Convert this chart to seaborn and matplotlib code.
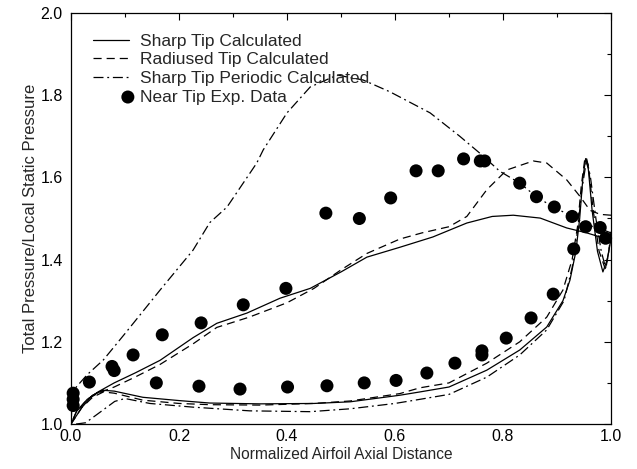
import numpy as np
import pandas as pd
import matplotlib
matplotlib.use("Agg")
import matplotlib.pyplot as plt
import seaborn as sns
from matplotlib.legend_handler import HandlerPathCollection
from matplotlib.ticker import MultipleLocator

# ---------------- data ----------------
# Sharp Tip Calculated (solid)
sharp_up_x = [0.0, 0.01, 0.03, 0.05, 0.08, 0.12, 0.165, 0.226, 0.27, 0.326, 0.387, 0.443, 0.5, 0.548,
              0.609, 0.67, 0.733, 0.78, 0.819, 0.869, 0.918, 0.955, 0.98, 1.0]
sharp_up_y = [1.0, 1.03, 1.06, 1.078, 1.10, 1.125, 1.155, 1.21, 1.245, 1.27, 1.306, 1.33, 1.37, 1.406,
              1.43, 1.455, 1.489, 1.505, 1.508, 1.501, 1.477, 1.465, 1.455, 1.45]
sharp_lo_x = [0.0, 0.02, 0.04, 0.06, 0.08, 0.133, 0.2, 0.257, 0.35, 0.45, 0.517, 0.609, 0.646, 0.70,
              0.77, 0.831, 0.881, 0.911, 0.924, 0.935, 0.942, 0.948, 0.953, 0.958, 0.965, 0.975,
              0.985, 0.993, 1.0]
sharp_lo_y = [1.0, 1.04, 1.07, 1.082, 1.08, 1.065, 1.057, 1.051, 1.049, 1.05, 1.054, 1.07, 1.078, 1.09,
              1.131, 1.18, 1.236, 1.30, 1.35, 1.42, 1.50, 1.60, 1.645, 1.62, 1.52, 1.42,
              1.37, 1.40, 1.45]

# Radiused Tip Calculated (dashed)
rad_up_x = [0.0, 0.01, 0.03, 0.05, 0.08, 0.12, 0.165, 0.226, 0.27, 0.33, 0.4, 0.45, 0.5, 0.548, 0.609,
            0.65, 0.70, 0.733, 0.77, 0.807, 0.856, 0.881, 0.918, 0.943, 0.961, 0.98, 1.0]
rad_up_y = [1.0, 1.03, 1.06, 1.075, 1.09, 1.115, 1.145, 1.195, 1.235, 1.26, 1.295, 1.33, 1.375, 1.415,
            1.45, 1.465, 1.48, 1.505, 1.57, 1.618, 1.64, 1.635, 1.594, 1.553, 1.52, 1.51, 1.508]
rad_lo_x = [0.0, 0.02, 0.04, 0.06, 0.08, 0.133, 0.2, 0.257, 0.35, 0.45, 0.517, 0.609, 0.646, 0.70,
            0.77, 0.831, 0.881, 0.911, 0.928, 0.938, 0.945, 0.952, 0.958, 0.967, 0.978, 0.99,
            0.996, 1.0]
rad_lo_y = [1.0, 1.04, 1.065, 1.078, 1.075, 1.058, 1.05, 1.047, 1.046, 1.05, 1.056, 1.074, 1.088, 1.10,
            1.148, 1.20, 1.26, 1.326, 1.40, 1.48, 1.58, 1.65, 1.63, 1.52, 1.42, 1.375,
            1.42, 1.47]

# Sharp Tip Periodic Calculated (dash-dot)
per_up_x = [0.0, 0.003, 0.03, 0.06, 0.1, 0.165, 0.226, 0.257, 0.289, 0.344, 0.356, 0.40, 0.443, 0.493,
            0.541, 0.591, 0.665, 0.72, 0.757, 0.794, 0.831, 0.863, 0.893, 0.924, 0.955, 0.98, 1.0]
per_up_y = [1.0, 1.08, 1.12, 1.156, 1.22, 1.326, 1.423, 1.49, 1.528, 1.635, 1.667, 1.757, 1.82, 1.849,
            1.837, 1.808, 1.757, 1.70, 1.659, 1.615, 1.586, 1.552, 1.528, 1.508, 1.485, 1.475, 1.465]
per_lo_x = [0.0, 0.01, 0.027, 0.05, 0.081, 0.1, 0.146, 0.226, 0.331, 0.443, 0.517, 0.6, 0.646, 0.70,
            0.77, 0.831, 0.881, 0.913, 0.928, 0.938, 0.946, 0.955, 0.962, 0.972, 0.982, 0.99,
            0.996, 1.0]
per_lo_y = [1.0, 1.0, 1.003, 1.025, 1.055, 1.062, 1.05, 1.041, 1.032, 1.03, 1.037, 1.05, 1.06, 1.072,
            1.114, 1.168, 1.229, 1.30, 1.38, 1.47, 1.57, 1.645, 1.60, 1.50, 1.42, 1.38,
            1.42, 1.46]

# Near Tip Exp. Data
exp_x = [0.004, 0.004, 0.004, 0.034, 0.076, 0.080, 0.115, 0.169, 0.241, 0.319, 0.398, 0.472, 0.534,
         0.592, 0.639, 0.680, 0.727, 0.758, 0.766, 0.831, 0.862, 0.895, 0.928, 0.953, 0.980, 0.990,
         0.158, 0.237, 0.313, 0.401, 0.474, 0.543, 0.602, 0.659, 0.711, 0.761, 0.761, 0.806, 0.852,
         0.893, 0.931]
exp_y = [1.075, 1.060, 1.045, 1.102, 1.140, 1.130, 1.168, 1.217, 1.246, 1.290, 1.330, 1.513, 1.500,
         1.550, 1.616, 1.616, 1.645, 1.640, 1.640, 1.586, 1.553, 1.528, 1.505, 1.480, 1.478, 1.452,
         1.100, 1.092, 1.085, 1.090, 1.093, 1.100, 1.106, 1.124, 1.148, 1.168, 1.178, 1.209, 1.258,
         1.316, 1.426]

labels = ["Sharp Tip Calculated", "Radiused Tip Calculated",
          "Sharp Tip Periodic Calculated", "Near Tip Exp. Data"]
x_ticks = [0.0, 0.2, 0.4, 0.6, 0.8, 1.0]
y_ticks = [1.0, 1.2, 1.4, 1.6, 1.8, 2.0]


def loop_frame(ux, uy, lx, ly):
    x = list(ux[::-1]) + list(lx[1:])
    y = list(uy[::-1]) + list(ly[1:])
    return pd.DataFrame({"x": x, "y": y, "order": range(len(x))})


# ---------------- plot ----------------
sns.set_style("white")
plt.rcParams["font.family"] = ["Liberation Sans", "DejaVu Sans"]

fig = plt.figure(figsize=(6.37, 4.69), dpi=100)
ax = fig.add_axes([71 / 637, 1 - 424 / 469, 540 / 637, 411 / 469])

styles = ["-", (0, (6.5, 4)), (0, (8, 3, 1.5, 3))]
curves = [(sharp_up_x, sharp_up_y, sharp_lo_x, sharp_lo_y),
          (rad_up_x, rad_up_y, rad_lo_x, rad_lo_y),
          (per_up_x, per_up_y, per_lo_x, per_lo_y)]
for (ux, uy, lx, ly), ls, lab in zip(curves, styles, labels[:3]):
    df = loop_frame(ux, uy, lx, ly)
    sns.lineplot(data=df, x="x", y="y", sort=False, estimator=None, ax=ax,
                 color="black", linewidth=0.9, linestyle=ls, label=lab)

exp_df = pd.DataFrame({"x": exp_x, "y": exp_y})
sns.scatterplot(data=exp_df, x="x", y="y", ax=ax, color="black", s=88,
                edgecolor="none", zorder=5, label=labels[3], clip_on=False)

ax.set_xlim(0, 1)
ax.set_ylim(1, 2)
ax.set_xticks(x_ticks)
ax.set_yticks(y_ticks)
ax.set_xticklabels([f"{v:.1f}" for v in x_ticks])
ax.set_yticklabels([f"{v:.1f}" for v in y_ticks])
ax.xaxis.set_minor_locator(MultipleLocator(0.1))
ax.yaxis.set_minor_locator(MultipleLocator(0.1))
ax.tick_params(which="both", direction="in", top=True, right=True, colors="black",
               labelsize=11.5, width=0.8)
ax.tick_params(which="major", length=5)
ax.tick_params(which="minor", length=3)
ax.tick_params(axis="x", which="major", pad=3.5)
ax.tick_params(axis="y", which="major", pad=6)
for sp in ax.spines.values():
    sp.set_color("black")
    sp.set_linewidth(0.9)

ax.set_xlabel("Normalized Airfoil Axial Distance", fontsize=11.2, labelpad=2)
ax.set_ylabel("Total Pressure/Local Static Pressure", fontsize=12, labelpad=2)


class RightPC(HandlerPathCollection):
    def get_xdata(self, legend, xdescent, ydescent, width, height, fontsize):
        xd, xm = super().get_xdata(legend, xdescent, ydescent, width, height, fontsize)
        return xd, [-xdescent + width - 0.05 * fontsize]


handles, labs = ax.get_legend_handles_labels()
leg = ax.legend(handles, labs, loc="upper left", bbox_to_anchor=(0.041, 0.95),
                frameon=False, fontsize=12.5, handlelength=2.05, handletextpad=0.65,
                labelspacing=0.2, borderaxespad=0, borderpad=0,
                handler_map={type(handles[-1]): RightPC()})

fig.savefig("out.png", dpi=100, facecolor="white")
